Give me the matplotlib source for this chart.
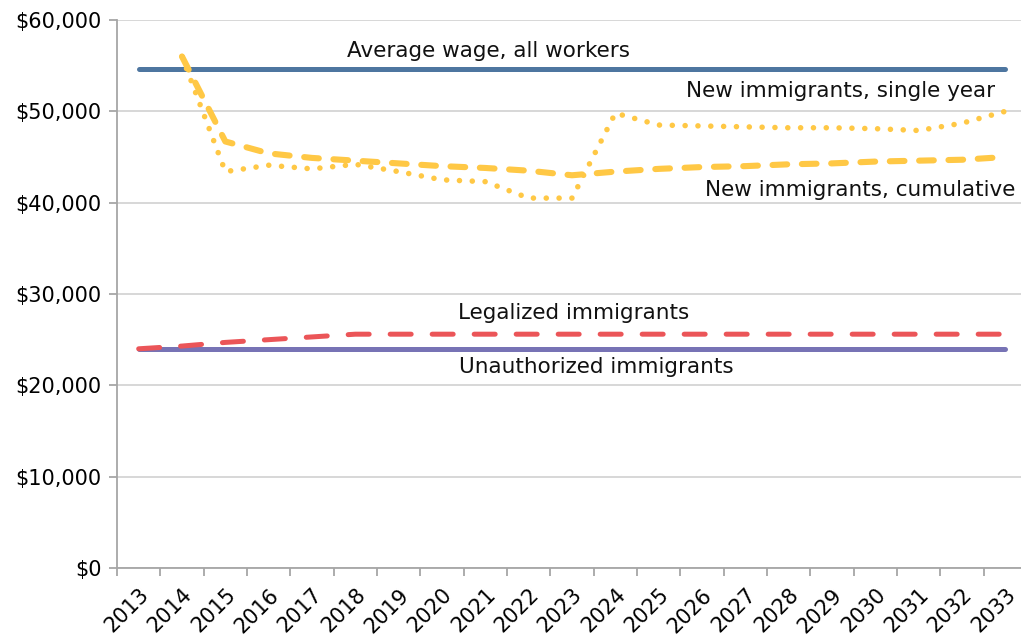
import numpy as np
import matplotlib
matplotlib.use("Agg")
from matplotlib import pyplot as plt
from matplotlib.ticker import FuncFormatter, MultipleLocator

# Annual wage paths, 2013-2033
years = list(range(2013, 2034))
avg_wage = [54600] * 21
unauthorized = [24000] * 21
legalized = [24000, 24300, 24700, 25000, 25300, 25600, 25600, 25600, 25600, 25600, 25600,
             25600, 25600, 25600, 25600, 25600, 25600, 25600, 25600, 25600, 25600]
# new immigrants only from 2014 on
new_cumulative = [np.nan, 56000, 46700, 45400, 44900, 44600, 44300, 44000, 43800, 43500, 43000,
                  43400, 43700, 43900, 44000, 44200, 44300, 44500, 44600, 44700, 45000]
new_single = [np.nan, 56000, 43400, 44100, 43700, 44200, 43400, 42500, 42300, 40500, 40500,
              49800, 48500, 48400, 48300, 48200, 48200, 48100, 47900, 48700, 50000]

blue = '#4E76A0'
gold = '#FFC845'
red = '#EB5558'
purple = '#7773B5'

plt.rcParams['font.family'] = ['DejaVu Sans']
fig = plt.figure(figsize=(10.21, 6.38), dpi=100)
# plot area runs a few pixels past the right edge of the figure
ax = fig.add_axes([117/1021, 70/638, 910/1021, 548/638])

x = np.arange(len(years))
ax.plot(x, avg_wage, color=blue, lw=3.6, solid_capstyle='round', zorder=3)
ax.plot(x, unauthorized, color=purple, lw=3.6, solid_capstyle='round', zorder=3)
ax.plot(x, legalized, color=red, lw=3.6, linestyle=(0, (4.2, 4.2)),
        dash_capstyle='round', zorder=4)
ax.plot(x, new_cumulative, color=gold, lw=4.4, linestyle=(0, (2.4, 2.4)),
        dash_capstyle='round', zorder=4)
ax.plot(x, new_single, color=gold, lw=4.0, linestyle=(0, (0.01, 2.3)),
        dash_capstyle='round', zorder=4)

ax.set_xlim(-0.5, 20.5)
ax.set_ylim(0, 60000)
ax.yaxis.set_major_locator(MultipleLocator(10000))
ax.yaxis.set_major_formatter(FuncFormatter(lambda v, p: '${:,.0f}'.format(v)))
ax.grid(axis='y', color='#D4D4D4', lw=1.3, zorder=0)

# ticks on category boundaries, labels on category centres
ax.set_xticks(np.arange(-0.5, 21, 1.0))
ax.set_xticklabels([])
ax.set_xticks(x, minor=True)
ax.set_xticklabels([str(y) for y in years], minor=True, rotation=45,
                   ha='right', va='top', rotation_mode='anchor', fontsize=15)
ax.tick_params(axis='x', which='major', length=6, width=1.3, color='#A6A6A6')
ax.tick_params(axis='x', which='minor', length=0, pad=12)
ax.tick_params(axis='y', length=6, width=1.3, color='#A6A6A6', labelsize=15, pad=5)

for s in ['top', 'right']:
    ax.spines[s].set_visible(False)
for s in ['left', 'bottom']:
    ax.spines[s].set_color('#A6A6A6')
    ax.spines[s].set_linewidth(1.3)

lab = dict(fontsize=15.5, va='baseline', color='#111111')
ax.text(8.07, 55950, 'Average wage, all workers', ha='center', **lab)
ax.text(19.77, 51570, 'New immigrants, single year', ha='right', **lab)
ax.text(20.23, 40730, 'New immigrants, cumulative', ha='right', **lab)
ax.text(10.04, 27260, 'Legalized immigrants', ha='center', **lab)
ax.text(10.55, 21350, 'Unauthorized immigrants', ha='center', **lab)

fig.savefig('out.png', dpi=100)
